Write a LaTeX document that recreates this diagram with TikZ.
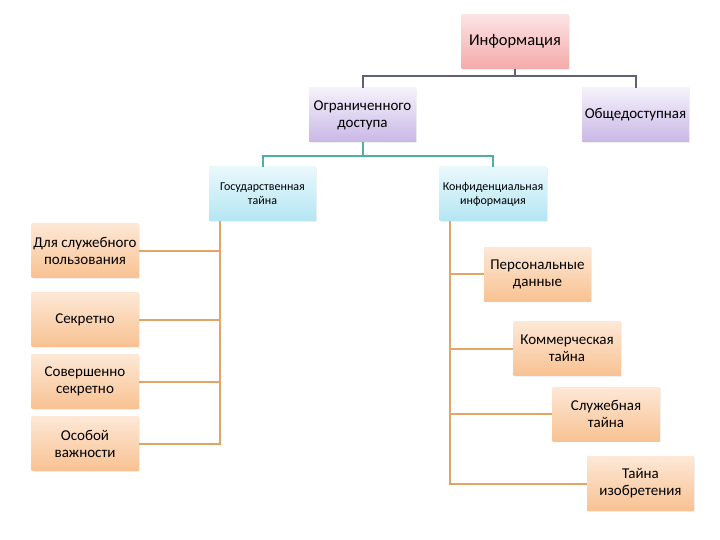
\documentclass[tikz,border=0pt]{standalone}
\usepackage{fontspec}
\setmainfont{Carlito}
\usetikzlibrary{shadows}

\definecolor{pinkT}{HTML}{FBE4E4}
\definecolor{pinkB}{HTML}{F5AAAA}
\definecolor{lilacT}{HTML}{F5F1FB}
\definecolor{lilacB}{HTML}{C9B8E6}
\definecolor{skyT}{HTML}{E9F8FC}
\definecolor{skyB}{HTML}{B4E6F3}
\definecolor{peachT}{HTML}{FDE8D6}
\definecolor{peachB}{HTML}{F8C292}
\definecolor{lnGrey}{HTML}{5D6370}
\definecolor{lnTeal}{HTML}{4DAFA6}
\definecolor{lnPeach}{HTML}{E3A566}

\begin{document}
\begin{tikzpicture}[
  x=1pt, y=-1pt,
  box/.style={align=center, minimum width=107pt, minimum height=54pt, inner sep=1pt, font=\fontsize{15}{17}\selectfont, shading=axis, drop shadow={opacity=0.12, shadow xshift=1.2pt, shadow yshift=-1.2pt}},
  top/.style={box, top color=pinkT, bottom color=pinkB, font=\fontsize{16.5}{18}\selectfont},
  mid/.style={box, top color=lilacT, bottom color=lilacB},
  low/.style={box, top color=skyT, bottom color=skyB, font=\fontsize{12}{14}\selectfont},
  leaf/.style={box, top color=peachT, bottom color=peachB},
  gline/.style={draw=lnGrey, line width=2pt},
  tline/.style={draw=lnTeal, line width=2pt},
  oline/.style={draw=lnPeach, line width=2pt}
]
\useasboundingbox (0,0) rectangle (720,540);

\node[top] (info) at (515,41.5) {Информация};
\node[mid] (restr) at (362.5,115) {Ограниченного\\доступа};
\node[mid] (pub) at (635.5,115) {Общедоступная};
\node[low] (gos) at (262.5,194) {Государственная\\тайна};
\node[low] (conf) at (493,194) {Конфиденциальная\\информация};

\node[leaf] (dsp) at (85,250.5) {Для служебного\\пользования};
\node[leaf] (sec) at (85,319.5) {Секретно};
\node[leaf] (tops) at (85,381.5) {Совершенно\\секретно};
\node[leaf] (spec) at (85,443.5) {Особой\\важности};

\node[leaf] (pers) at (537.5,274) {Персональные\\данные};
\node[leaf] (comm) at (567,348.5) {Коммерческая\\тайна};
\node[leaf] (serv) at (606,414) {Служебная\\тайна};
\node[leaf] (inv) at (640.5,483.5) {Тайна\\изобретения};

% top level
\coordinate (bus1) at (515,76);
\draw[gline] (info.south) -- (bus1);
\draw[gline] (bus1) -| (restr.north);
\draw[gline] (bus1) -| (pub.north);

% restricted access
\coordinate (bus2) at (362.5,156);
\draw[tline] (restr.south) -- (bus2);
\draw[tline] (bus2) -| (gos.north);
\draw[tline] (bus2) -| (conf.north);

% state secret
\coordinate (gtrunk) at ([xshift=11pt]gos.south west);
\foreach \n in {dsp,sec,tops,spec}
  \draw[oline] (gtrunk) |- (\n.east);

% confidential
\coordinate (ctrunk) at ([xshift=11pt]conf.south west);
\foreach \n in {pers,comm,serv,inv}
  \draw[oline] (ctrunk) |- (\n.west);
\end{tikzpicture}
\end{document}
